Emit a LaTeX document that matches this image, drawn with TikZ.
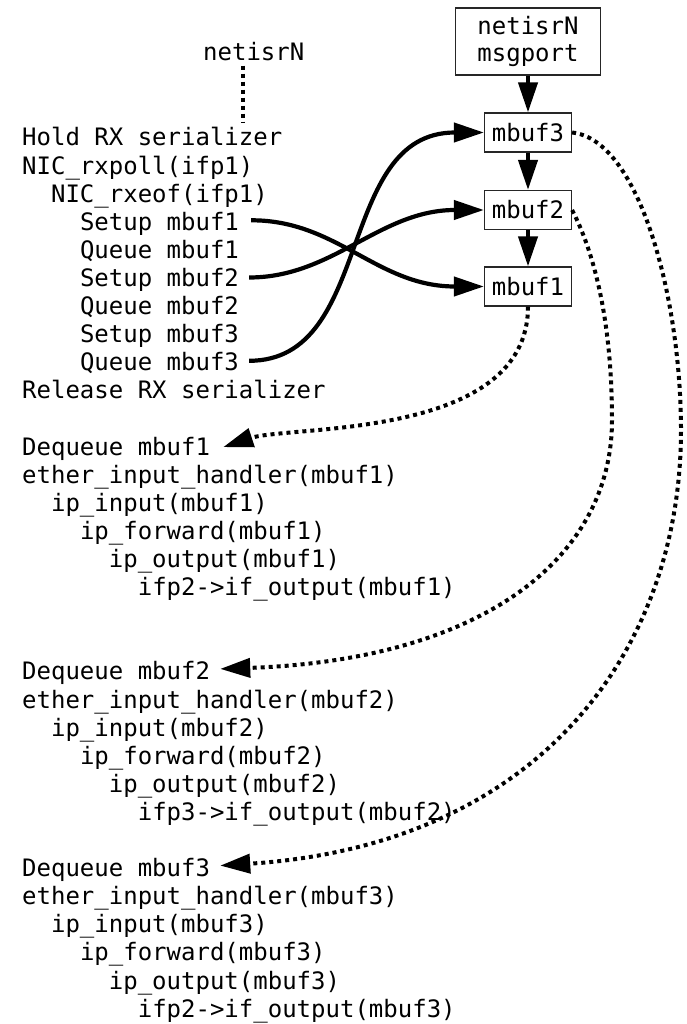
\documentclass[tikz,border=0pt]{standalone}
\usepackage{fontspec}
\setmainfont{DejaVu Sans Mono}
\usetikzlibrary{arrows.meta}
\begin{document}
\begin{tikzpicture}[x=1pt,y=-1pt,
  txt/.style={anchor=base west, inner sep=0pt, font=\fontsize{24}{28}\selectfont},
  box/.style={draw=black!85, line width=1.2pt, inner sep=0pt,
    font=\fontsize{24}{27}\selectfont, minimum width=87pt, minimum height=39pt},
  tiphead/.style={-{Triangle[length=30pt,width=19pt]}},
  flow/.style={tiphead, line width=4.2pt},
  dotline/.style={line width=4pt, dash pattern=on 4pt off 4pt},
  dotflow/.style={tiphead, dotline}]
\path[use as bounding box] (0,0) rectangle (687,1024);

% thread label
\node[txt] (lbl) at (203,61) {netisrN};

% RX interrupt side
\node[txt] (hold)   at (22,146)    {Hold RX serializer};
\node[txt] (rxpoll) at (22,174.1)  {NIC\_rxpoll(ifp1)};
\node[txt] (rxeof)  at (50.9,202.2) {NIC\_rxeof(ifp1)};
\node[txt] (su1)    at (79.8,230.3) {Setup mbuf1};
\node[txt] (q1)     at (79.8,258.4) {Queue mbuf1};
\node[txt] (su2)    at (79.8,286.5) {Setup mbuf2};
\node[txt] (q2)     at (79.8,314.6) {Queue mbuf2};
\node[txt] (su3)    at (79.8,342.7) {Setup mbuf3};
\node[txt] (q3)     at (79.8,370.8) {Queue mbuf3};
\node[txt] (rel)    at (22,398.9)  {Release RX serializer};

% processing of mbuf1
\node[txt] (dq1) at (22,455.1)    {Dequeue mbuf1};
\node[txt] (eh1) at (22,483.2)    {ether\_input\_handler(mbuf1)};
\node[txt] (ii1) at (50.9,511.3)  {ip\_input(mbuf1)};
\node[txt] (if1) at (79.8,539.4)  {ip\_forward(mbuf1)};
\node[txt] (io1) at (108.7,567.5) {ip\_output(mbuf1)};
\node[txt] (oo1) at (137.6,595.6) {ifp2->if\_output(mbuf1)};

% processing of mbuf2
\node[txt] (dq2) at (22,679.9)    {Dequeue mbuf2};
\node[txt] (eh2) at (22,708)      {ether\_input\_handler(mbuf2)};
\node[txt] (ii2) at (50.9,736.1)  {ip\_input(mbuf2)};
\node[txt] (if2) at (79.8,764.2)  {ip\_forward(mbuf2)};
\node[txt] (io2) at (108.7,792.3) {ip\_output(mbuf2)};
\node[txt] (oo2) at (137.6,820.4) {ifp3->if\_output(mbuf2)};

% processing of mbuf3
\node[txt] (dq3) at (22,876.6)    {Dequeue mbuf3};
\node[txt] (eh3) at (22,904.7)    {ether\_input\_handler(mbuf3)};
\node[txt] (ii3) at (50.9,932.8)  {ip\_input(mbuf3)};
\node[txt] (if3) at (79.8,960.9)  {ip\_forward(mbuf3)};
\node[txt] (io3) at (108.7,989)   {ip\_output(mbuf3)};
\node[txt] (oo3) at (137.6,1017.1) {ifp2->if\_output(mbuf3)};

% message port and its queue
\node[box, align=center, minimum width=145pt, minimum height=67pt] (msg) at (528,41.5) {netisrN\\msgport};
\node[box] (mb3) at (528,132.5) {mbuf3};
\node[box] (mb2) at (528,210)   {mbuf2};
\node[box] (mb1) at (528,286.5) {mbuf1};

\draw[flow] (msg.south) -- (mb3.north);
\draw[flow] (mb3.south) -- (mb2.north);
\draw[flow] (mb2.south) -- (mb1.north);

% thread marker
\coordinate (dtop) at ([shift={(-11pt,-4pt)}]lbl.south);
\coordinate (dbot) at (dtop |- hold.north);
\draw[dotline] (dtop) -- ([yshift=5pt]dbot);

% enqueue
\draw[flow] ([shift={(12pt,10pt)}]su1.base east) .. controls (337,220) and (377,286.5) .. (mb1.west);
\draw[flow] ([shift={(10pt,9pt)}]su2.base east) .. controls (333,277.5) and (380,210) .. (mb2.west);
\draw[flow] ([shift={(10pt,10pt)}]q3.base east) .. controls (375,360.8) and (335,132.5) .. (mb3.west);

% dequeue
\draw[dotflow] (mb1.south) .. controls (528,440) and (290,425) .. ([shift={(13pt,8pt)}]dq1.base east);
\draw[dotflow] (mb2.east) .. controls (597,258) and (612,330) .. (612,420)
  .. controls (612,560) and (480,660) .. ([shift={(10pt,11pt)}]dq2.base east);
\draw[dotflow] (mb3.east) .. controls (640,140) and (681,300) .. (681,430)
  .. controls (681,650) and (540,845) .. ([shift={(10pt,11pt)}]dq3.base east);
\end{tikzpicture}
\end{document}
